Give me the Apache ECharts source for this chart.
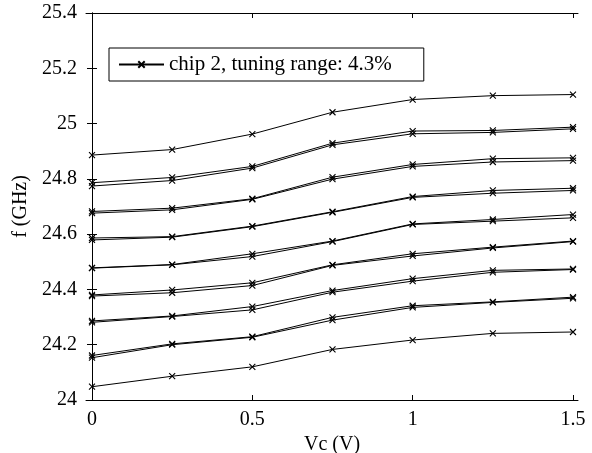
<!DOCTYPE html>
<html><head><meta charset="utf-8">
<script src="https://cdn.jsdelivr.net/npm/echarts@6/dist/echarts.min.js"></script>
<style>html,body{margin:0;padding:0;background:#fff}#c{width:592px;height:453px}</style>
</head><body><div id="c"></div>
<script>
// Control voltage (V)
const vc = [0, 0.25, 0.5, 0.75, 1, 1.25, 1.5];
// Frequency curves (GHz), top to bottom
const f01 = [24.886, 24.906, 24.962, 25.041, 25.087, 25.101, 25.105];
const f02 = [24.786, 24.805, 24.845, 24.929, 24.973, 24.975, 24.987];
const f03 = [24.774, 24.794, 24.839, 24.923, 24.963, 24.968, 24.981];
const f04 = [24.682, 24.694, 24.728, 24.806, 24.852, 24.873, 24.876];
const f05 = [24.676, 24.688, 24.726, 24.799, 24.845, 24.861, 24.866];
const f06 = [24.586, 24.591, 24.629, 24.681, 24.736, 24.758, 24.766];
const f07 = [24.579, 24.589, 24.627, 24.679, 24.733, 24.748, 24.758];
const f08 = [24.478, 24.490, 24.529, 24.575, 24.637, 24.653, 24.671];
const f09 = [24.477, 24.489, 24.519, 24.573, 24.635, 24.647, 24.659];
const f10 = [24.380, 24.398, 24.424, 24.489, 24.529, 24.553, 24.575];
const f11 = [24.376, 24.388, 24.414, 24.487, 24.521, 24.550, 24.573];
const f12 = [24.286, 24.304, 24.338, 24.396, 24.439, 24.469, 24.474];
const f13 = [24.281, 24.302, 24.326, 24.390, 24.430, 24.462, 24.472];
const f14 = [24.161, 24.203, 24.229, 24.299, 24.341, 24.355, 24.372];
const f15 = [24.153, 24.200, 24.227, 24.289, 24.335, 24.353, 24.368];
const f16 = [24.048, 24.086, 24.120, 24.183, 24.217, 24.241, 24.246];
const curves = [f01,f02,f03,f04,f05,f06,f07,f08,f09,f10,f11,f12,f13,f14,f15,f16];

const xTicks = [0, 0.5, 1, 1.5];
const legendName = 'chip 2, tuning range: 4.3%';
const xName = 'Vc (V)';
const yName = 'f (GHz)';

const FONT = 'Liberation Serif';
const chart = echarts.init(document.getElementById('c'), null, {renderer: 'canvas'});
const xMin = -0.0187, xMax = 1.5156;
const axisLine = {show: true, lineStyle: {color: '#000', width: 1}};

const series = curves.map(c => ({
  name: legendName,
  type: 'line',
  data: vc.map((x, i) => [x, c[i]]),
  symbol: 'path://M0,0L10,10M0,10L10,0',
  symbolSize: 6,
  showSymbol: true,
  lineStyle: {color: '#000', width: 1},
  itemStyle: {color: '#000', borderColor: '#000', borderWidth: 1.1},
  emphasis: {disabled: true},
  animation: false
}));

chart.setOption({
  backgroundColor: '#fff',
  animation: false,
  grid: {left: 86, right: 14, top: 13, bottom: 53, containLabel: false, outerBoundsMode: 'none'},
  legend: {
    data: [legendName], left: 109, top: 48, selectedMode: false,
    padding: [6, 32, 6, 9], borderColor: '#000', borderWidth: 1, backgroundColor: '#fff',
    itemWidth: 45, itemHeight: 8,
    textStyle: {fontFamily: FONT, fontSize: 21, color: '#000'}
  },
  xAxis: [{
    type: 'value', min: xMin, max: xMax, position: 'bottom',
    axisLine: axisLine, splitLine: {show: false},
    axisTick: {inside: true, length: 5, customValues: xTicks, lineStyle: {color: '#000'}},
    axisLabel: {customValues: xTicks, fontFamily: FONT, fontSize: 20, color: '#000', margin: 10},
    name: xName, nameLocation: 'middle', nameGap: 31,
    nameTextStyle: {fontFamily: FONT, fontSize: 20, color: '#000'}
  }, {
    type: 'value', min: xMin, max: xMax, position: 'top',
    axisLine: axisLine, splitLine: {show: false},
    axisTick: {inside: true, length: 5, customValues: xTicks, lineStyle: {color: '#000'}},
    axisLabel: {show: false}
  }],
  yAxis: [{
    type: 'value', min: 24, max: 25.4, interval: 0.2, position: 'left',
    axisLine: axisLine, splitLine: {show: false},
    axisTick: {inside: true, length: 5, lineStyle: {color: '#000'}},
    axisLabel: {fontFamily: FONT, fontSize: 20, color: '#000', margin: 9},
    name: yName, nameLocation: 'middle', nameGap: 49, nameRotate: 90,
    nameTextStyle: {fontFamily: FONT, fontSize: 20, color: '#000'}
  }, {
    type: 'value', min: 24, max: 25.4, interval: 0.2, position: 'right',
    axisLine: axisLine, splitLine: {show: false},
    axisTick: {inside: true, length: 5, lineStyle: {color: '#000'}},
    axisLabel: {show: false}
  }],
  series: series
});
</script></body></html>
